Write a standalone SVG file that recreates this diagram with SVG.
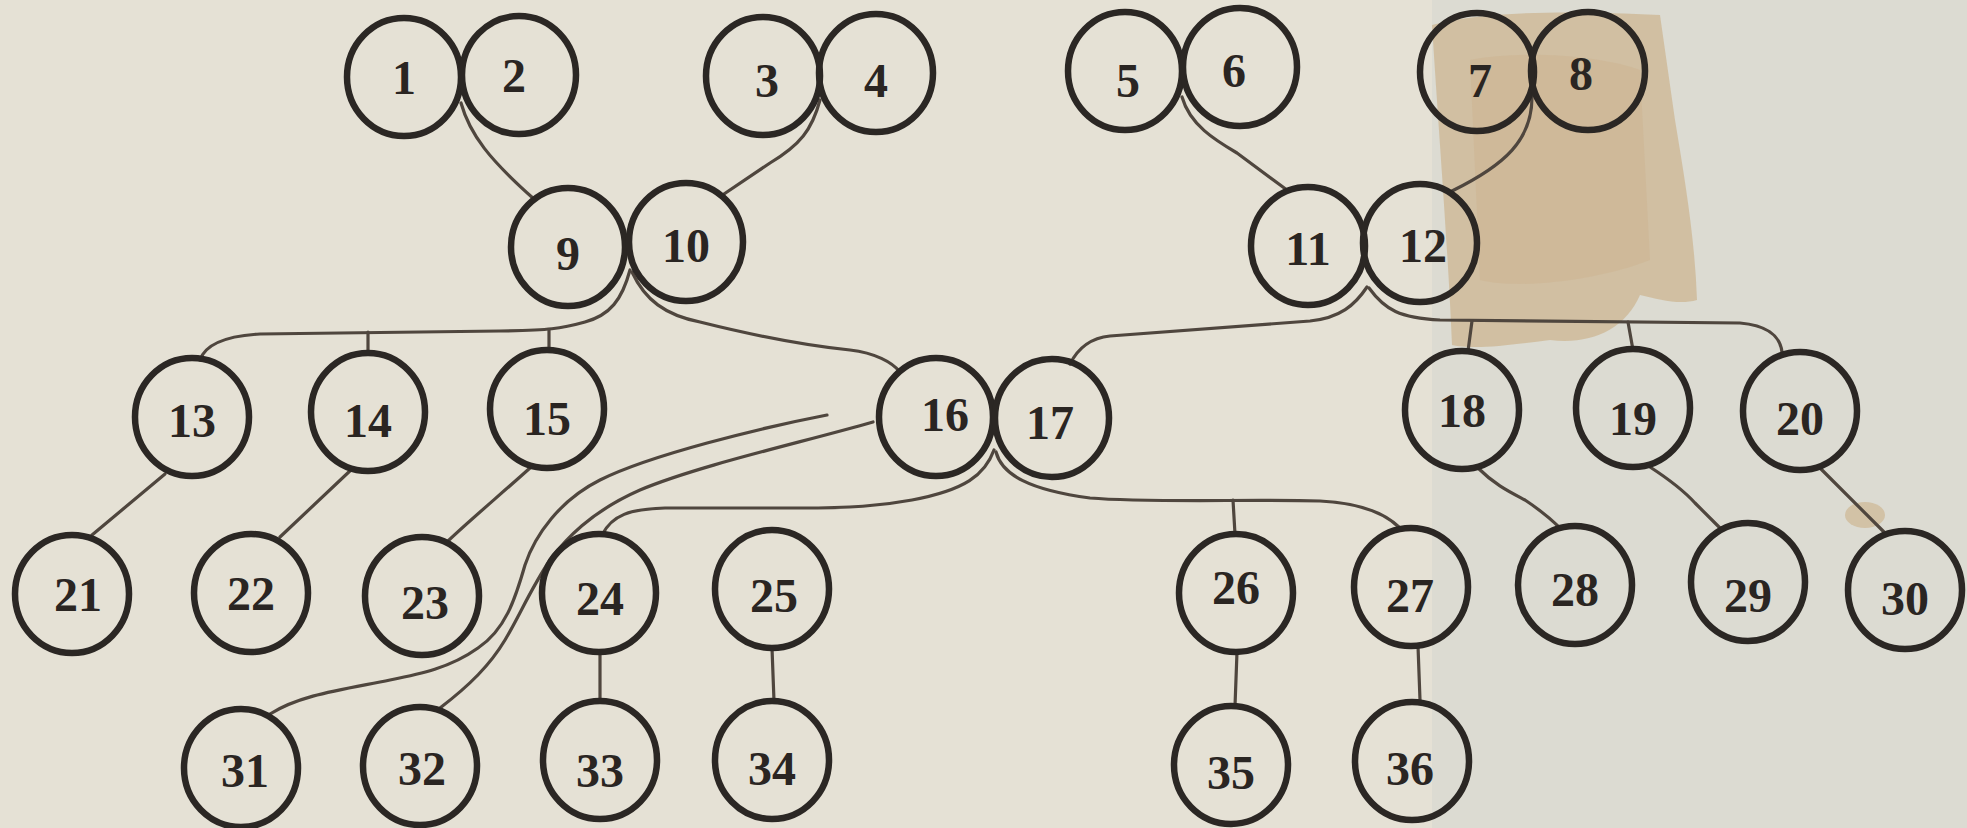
<svg xmlns="http://www.w3.org/2000/svg" width="1967" height="828" viewBox="0 0 1967 828">
<defs>
<style>
.n ellipse{fill:none;stroke:#2b2724;stroke-width:6.5}
.n text{font-family:"Liberation Serif","DejaVu Serif",serif;font-weight:bold;font-size:48px;fill:#2a2522;text-anchor:middle;dominant-baseline:central}
#connectors path{fill:none;stroke:#4f463e;stroke-width:3.2;stroke-linecap:round;stroke-linejoin:round}
.st{fill:#cbb089}
</style>
</defs>
<g id="background">
<rect x="0" y="0" width="1967" height="828" fill="#e5e1d5"/>
<rect x="1432" y="0" width="535" height="828" fill="#dcdbd2"/>
<path class="st" opacity="0.65" d="M1432,25 C1480,12 1560,10 1660,15 L1675,120 C1685,180 1695,240 1697,300 C1680,305 1660,300 1640,295 C1625,330 1590,345 1550,340 C1510,345 1475,350 1452,345 C1448,250 1440,150 1432,25 Z"/>
<path class="st" opacity="0.35" d="M1470,60 C1520,50 1600,55 1640,70 L1650,260 C1600,280 1520,290 1480,280 Z"/>
<ellipse cx="1865" cy="515" rx="20" ry="13" fill="#cbb089" opacity="0.6"/>
</g>
<g id="connectors">
<path d="M461,103 C470,135 490,160 534,199"/>
<path d="M820,100 C812,130 800,145 770,163 L724,194"/>
<path d="M1182,97 C1190,125 1215,140 1237,153 L1287,190"/>
<path d="M1532,97 C1532,140 1505,165 1452,191"/>
<path d="M630,270 C622,300 610,315 585,322 C560,329 550,330 500,331 L260,334 C225,336 205,345 200,360"/>
<path d="M368,332 L368,353"/>
<path d="M549,330 L549,350"/>
<path d="M632,272 C645,300 665,315 700,322 C740,332 800,345 850,350 C875,353 892,362 900,372"/>
<path d="M1367,287 C1355,305 1340,318 1310,321 L1110,336 C1090,338 1078,348 1070,364"/>
<path d="M1369,288 C1385,310 1400,318 1440,320 L1740,323 C1765,325 1780,335 1782,352"/>
<path d="M1472,321 L1468,351"/>
<path d="M1628,322 L1633,350"/>
<path d="M165,474 L92,535"/>
<path d="M352,469 L280,537"/>
<path d="M530,468 C500,495 470,520 448,541"/>
<path d="M1478,468 C1495,485 1510,492 1525,500 C1540,510 1552,520 1560,528"/>
<path d="M1650,467 C1670,480 1685,492 1695,503 L1722,530"/>
<path d="M1820,468 L1885,533"/>
<path d="M994,450 C985,475 965,490 912,500 C880,506 850,508 800,508 L665,508 C630,509 612,515 602,535"/>
<path d="M996,452 C1002,475 1030,490 1090,498 C1150,503 1250,499 1320,501 C1360,503 1385,513 1400,528"/>
<path d="M1233,500 L1235,534"/>
<path d="M600,653 L600,701"/>
<path d="M772,648 L774,701"/>
<path d="M1237,652 L1235,706"/>
<path d="M1418,646 L1420,700"/>
<path d="M827,415 C760,428 650,455 600,480 C560,500 535,535 525,565 C515,600 505,630 478,648 C450,668 420,674 390,680 C340,690 300,695 270,714"/>
<path d="M873,422 C800,443 700,465 640,490 C590,512 565,540 550,560 C530,590 520,615 505,640 C490,665 470,685 440,708"/>
</g>
<g id="node1" class="n"><ellipse cx="404" cy="77" rx="57" ry="59"/><text x="404" y="77">1</text></g>
<g id="node2" class="n"><ellipse cx="519" cy="75" rx="57" ry="59"/><text x="514" y="75">2</text></g>
<g id="node3" class="n"><ellipse cx="763" cy="76" rx="57" ry="59"/><text x="767" y="80">3</text></g>
<g id="node4" class="n"><ellipse cx="876" cy="73" rx="57" ry="59"/><text x="876" y="80">4</text></g>
<g id="node5" class="n"><ellipse cx="1125" cy="71" rx="57" ry="59"/><text x="1128" y="80">5</text></g>
<g id="node6" class="n"><ellipse cx="1240" cy="67" rx="57" ry="59"/><text x="1234" y="70">6</text></g>
<g id="node7" class="n"><ellipse cx="1477" cy="72" rx="57" ry="59"/><text x="1480" y="80">7</text></g>
<g id="node8" class="n"><ellipse cx="1588" cy="71" rx="57" ry="59"/><text x="1581" y="73">8</text></g>
<g id="node9" class="n"><ellipse cx="568" cy="247" rx="57" ry="59"/><text x="568" y="253">9</text></g>
<g id="node10" class="n"><ellipse cx="686" cy="242" rx="57" ry="59"/><text x="686" y="245">10</text></g>
<g id="node11" class="n"><ellipse cx="1308" cy="246" rx="57" ry="59"/><text x="1308" y="248">11</text></g>
<g id="node12" class="n"><ellipse cx="1420" cy="243" rx="57" ry="59"/><text x="1423" y="245">12</text></g>
<g id="node13" class="n"><ellipse cx="192" cy="417" rx="57" ry="59"/><text x="192" y="420">13</text></g>
<g id="node14" class="n"><ellipse cx="368" cy="412" rx="57" ry="59"/><text x="368" y="420">14</text></g>
<g id="node15" class="n"><ellipse cx="547" cy="409" rx="57" ry="59"/><text x="547" y="418">15</text></g>
<g id="node16" class="n"><ellipse cx="936" cy="417" rx="57" ry="59"/><text x="945" y="414">16</text></g>
<g id="node17" class="n"><ellipse cx="1052" cy="418" rx="57" ry="59"/><text x="1050" y="422">17</text></g>
<g id="node18" class="n"><ellipse cx="1462" cy="410" rx="57" ry="59"/><text x="1462" y="410">18</text></g>
<g id="node19" class="n"><ellipse cx="1633" cy="408" rx="57" ry="59"/><text x="1633" y="418">19</text></g>
<g id="node20" class="n"><ellipse cx="1800" cy="411" rx="57" ry="59"/><text x="1800" y="418">20</text></g>
<g id="node21" class="n"><ellipse cx="72" cy="594" rx="57" ry="59"/><text x="78" y="594">21</text></g>
<g id="node22" class="n"><ellipse cx="251" cy="593" rx="57" ry="59"/><text x="251" y="593">22</text></g>
<g id="node23" class="n"><ellipse cx="422" cy="596" rx="57" ry="59"/><text x="425" y="602">23</text></g>
<g id="node24" class="n"><ellipse cx="599" cy="593" rx="57" ry="59"/><text x="600" y="598">24</text></g>
<g id="node25" class="n"><ellipse cx="772" cy="589" rx="57" ry="59"/><text x="774" y="595">25</text></g>
<g id="node26" class="n"><ellipse cx="1236" cy="593" rx="57" ry="59"/><text x="1236" y="587">26</text></g>
<g id="node27" class="n"><ellipse cx="1411" cy="587" rx="57" ry="59"/><text x="1410" y="595">27</text></g>
<g id="node28" class="n"><ellipse cx="1575" cy="585" rx="57" ry="59"/><text x="1575" y="589">28</text></g>
<g id="node29" class="n"><ellipse cx="1748" cy="582" rx="57" ry="59"/><text x="1748" y="595">29</text></g>
<g id="node30" class="n"><ellipse cx="1905" cy="590" rx="57" ry="59"/><text x="1905" y="598">30</text></g>
<g id="node31" class="n"><ellipse cx="241" cy="768" rx="57" ry="59"/><text x="245" y="770">31</text></g>
<g id="node32" class="n"><ellipse cx="420" cy="766" rx="57" ry="59"/><text x="422" y="768">32</text></g>
<g id="node33" class="n"><ellipse cx="600" cy="760" rx="57" ry="59"/><text x="600" y="770">33</text></g>
<g id="node34" class="n"><ellipse cx="772" cy="760" rx="57" ry="59"/><text x="772" y="768">34</text></g>
<g id="node35" class="n"><ellipse cx="1231" cy="765" rx="57" ry="59"/><text x="1231" y="772">35</text></g>
<g id="node36" class="n"><ellipse cx="1412" cy="761" rx="57" ry="59"/><text x="1410" y="768">36</text></g>
</svg>
